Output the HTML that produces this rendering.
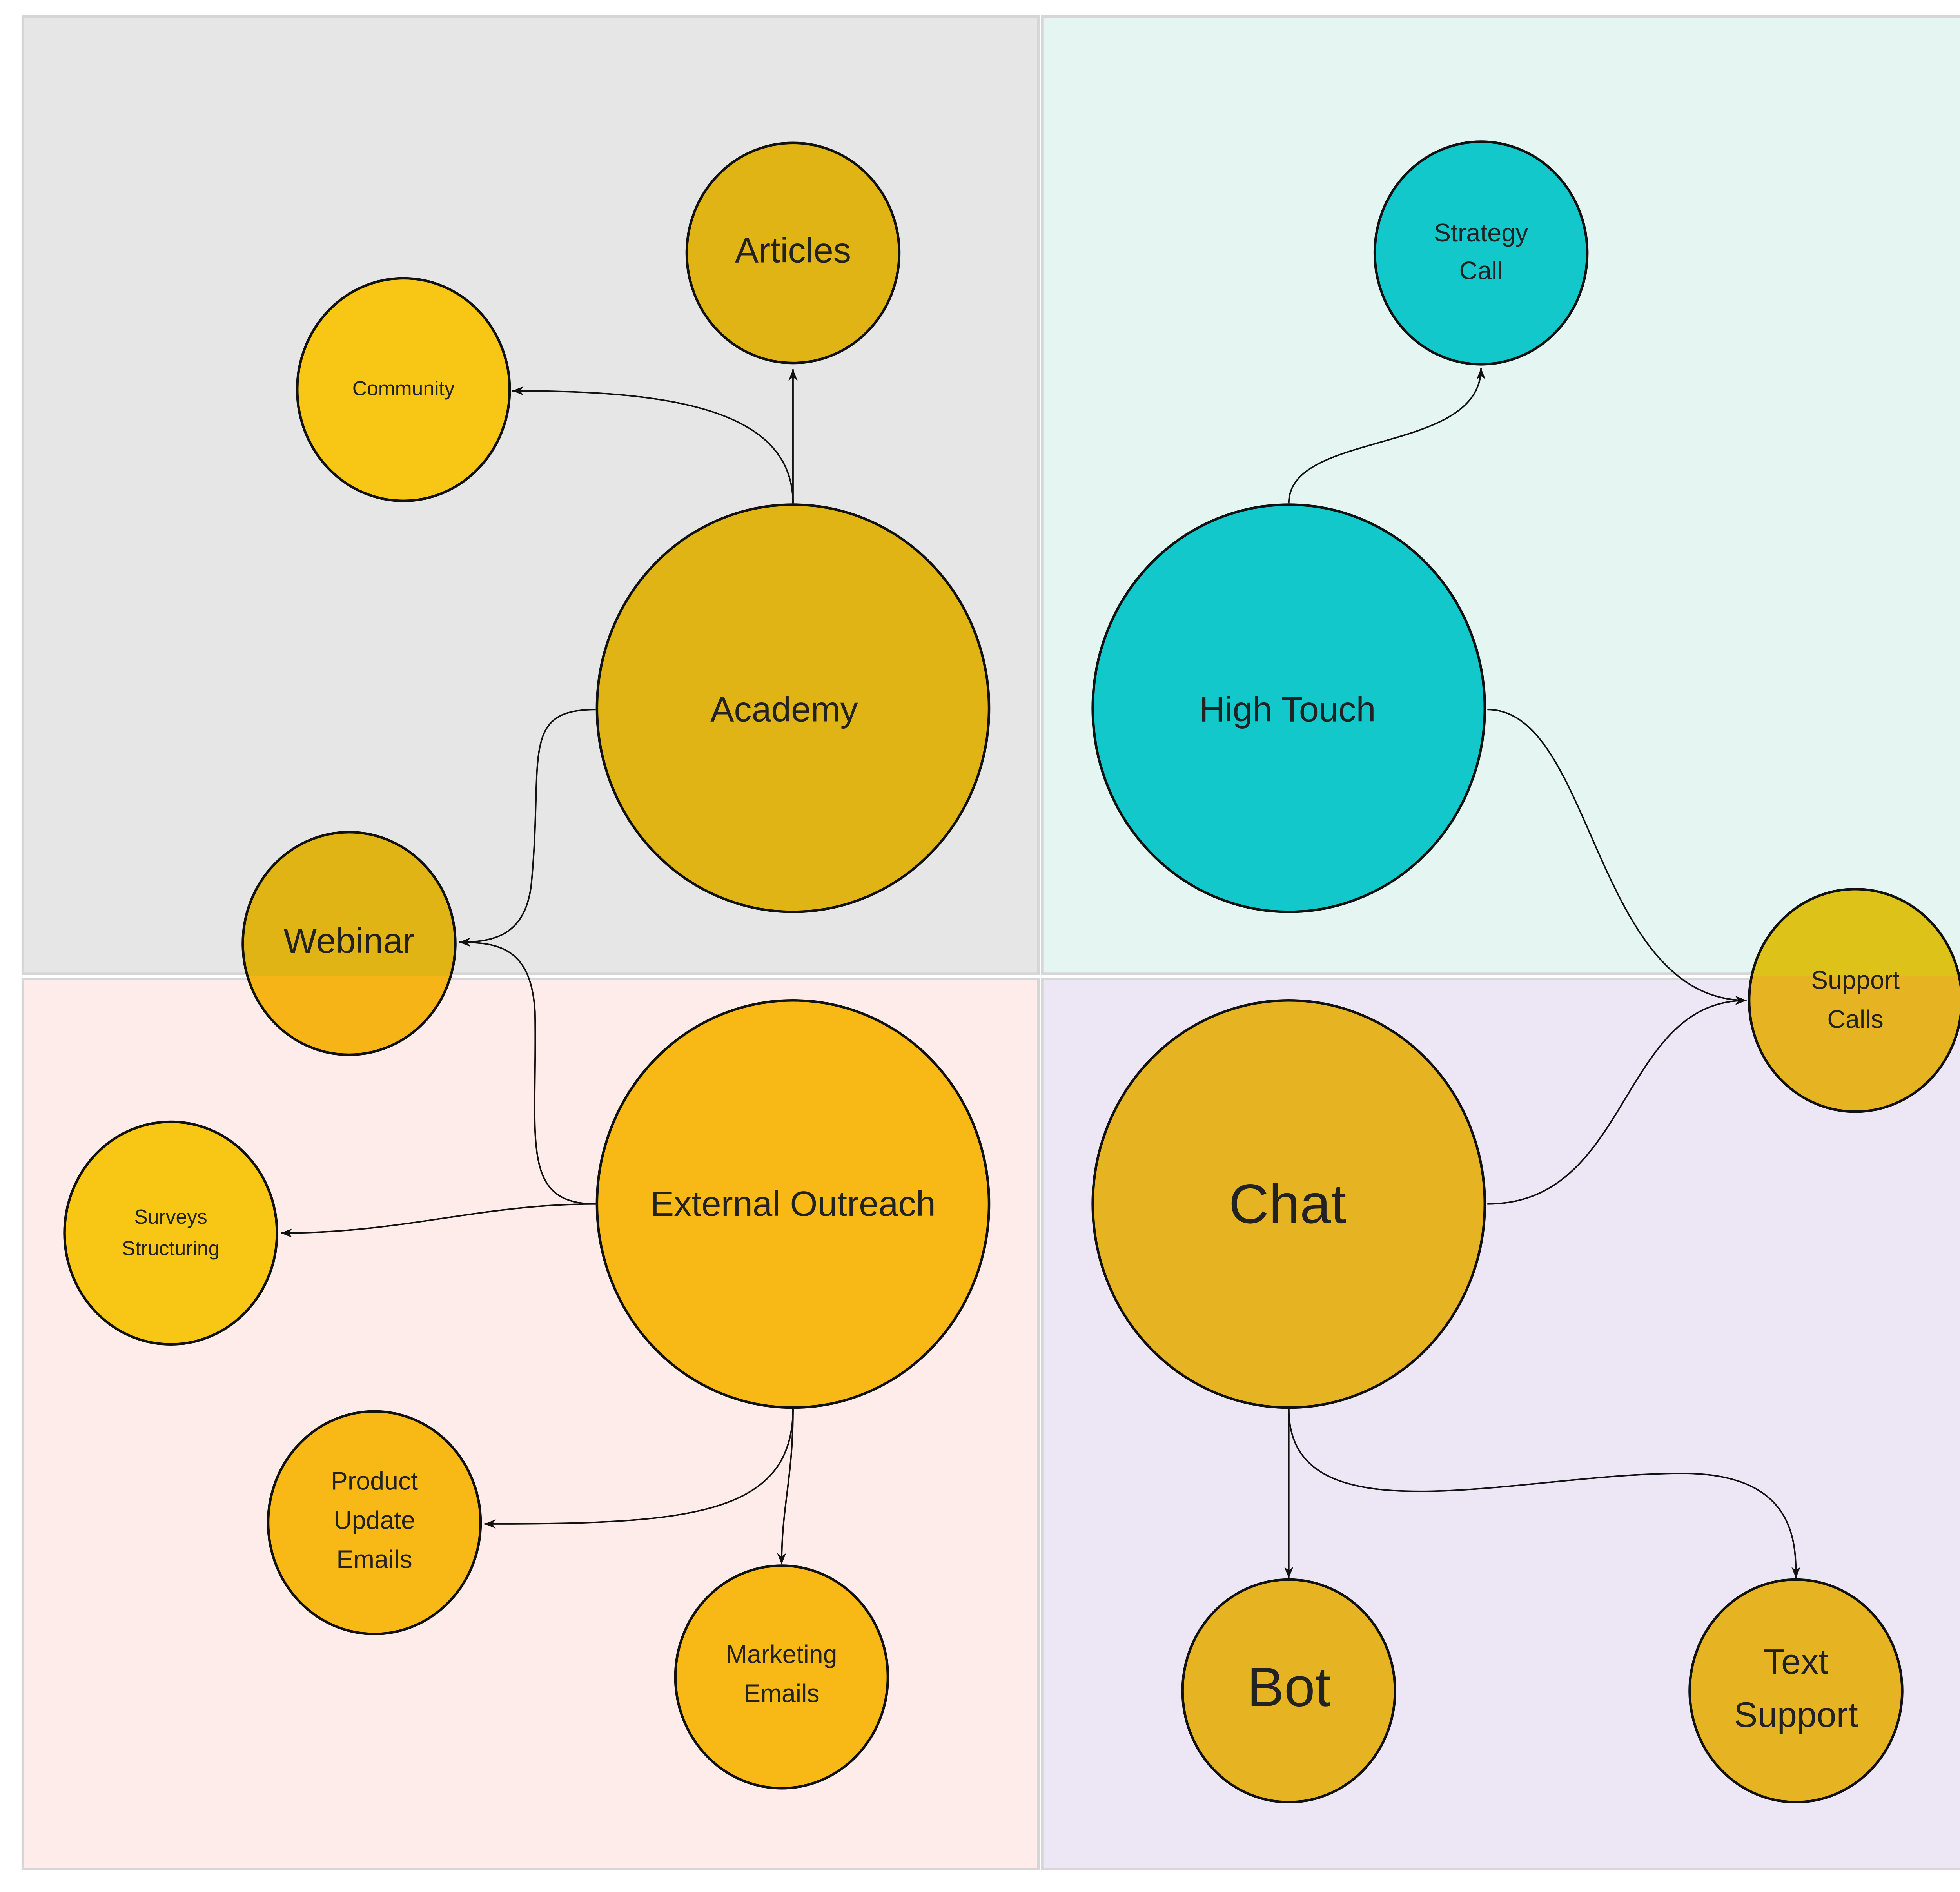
<!DOCTYPE html>
<html><head><meta charset="utf-8"><style>html,body{margin:0;padding:0;background:#fff}svg{display:block}text{font-family:"Liberation Sans",sans-serif;fill:#222;text-anchor:middle;dominant-baseline:central}</style></head><body>
<svg width="5059" height="4827" viewBox="0 0 1568 1496" xmlns="http://www.w3.org/2000/svg">
<defs>
<marker id="a" viewBox="0 0 10 10" refX="10" refY="5" markerWidth="9" markerHeight="9" markerUnits="userSpaceOnUse" orient="auto"><path d="M0,1 L10,5 L0,9 L3,5 z" fill="#111"/></marker>
<clipPath id="bot"><rect x="0" y="772" width="1568" height="800"/></clipPath>
</defs>
<rect width="1568" height="1496" fill="#fff"/>
<rect x="18" y="13" width="803" height="757" fill="#e6e6e6" stroke="#d6d6d6" stroke-width="2"/>
<rect x="824" y="13" width="727" height="757" fill="#e4f5f2" stroke="#d6d6d6" stroke-width="2"/>
<rect x="18" y="774" width="803" height="704" fill="#fdecea" stroke="#d6d6d6" stroke-width="2"/>
<rect x="824" y="774" width="727" height="704" fill="#ede7f5" stroke="#d6d6d6" stroke-width="2"/>
<g fill="none" stroke="#111" stroke-width="1.2">
<path d="M627,398 L627,292" marker-end="url(#a)"/>
<path d="M627,398 C627,320 520,309 405,309" marker-end="url(#a)"/>
<path d="M471,561 C410,561 430,600 420,700 C415,740 390,745 363,745" marker-end="url(#a)"/>
<path d="M471,952 C410,952 425,900 423,800 C420,750 395,745 363,745" marker-end="url(#a)"/>
<path d="M471,952 C380,952 320,975 222,975" marker-end="url(#a)"/>
<path d="M627,1114 C627,1200 540,1205 383,1205" marker-end="url(#a)"/>
<path d="M627,1114 C627,1170 618,1190 618,1237" marker-end="url(#a)"/>
<path d="M1019,398 C1019,340 1171,360 1171,291" marker-end="url(#a)"/>
<path d="M1176,561 C1260,561 1260,791 1381,791" marker-end="url(#a)"/>
<path d="M1176,952 C1290,952 1280,791 1381,791" marker-end="url(#a)"/>
<path d="M1019,1114 L1019,1248" marker-end="url(#a)"/>
<path d="M1019,1114 C1019,1220 1200,1165 1330,1165 C1420,1165 1420,1220 1420,1248" marker-end="url(#a)"/>
</g>
<g stroke="#111" stroke-width="2">
<ellipse cx="627" cy="560" rx="155" ry="161" fill="#e0b414"/>
<ellipse cx="627" cy="200" rx="84" ry="87" fill="#e0b414"/>
<ellipse cx="319" cy="308" rx="84" ry="88" fill="#f8c614"/>
<ellipse cx="1171" cy="200" rx="84" ry="88" fill="#12c8cb"/>
<ellipse cx="1019" cy="560" rx="155" ry="161" fill="#12c8cb"/>
<ellipse cx="1019" cy="952" rx="155" ry="161" fill="#e6b422"/>
<ellipse cx="627" cy="952" rx="155" ry="161" fill="#f8b816"/>
<ellipse cx="135" cy="975" rx="84" ry="88" fill="#f8c614"/>
<ellipse cx="296" cy="1204" rx="84" ry="88" fill="#f8b816"/>
<ellipse cx="618" cy="1326" rx="84" ry="88" fill="#f8b816"/>
<ellipse cx="1019" cy="1337" rx="84" ry="88" fill="#e6b422"/>
<ellipse cx="1420" cy="1337" rx="84" ry="88" fill="#e6b422"/>
</g>
<ellipse cx="276" cy="746" rx="84" ry="88" fill="#e0b414"/>
<ellipse cx="276" cy="746" rx="84" ry="88" fill="#f6b416" clip-path="url(#bot)"/>
<ellipse cx="276" cy="746" rx="84" ry="88" fill="none" stroke="#111" stroke-width="2"/>
<ellipse cx="1467" cy="791" rx="84" ry="88" fill="#ddc21a"/>
<ellipse cx="1467" cy="791" rx="84" ry="88" fill="#e6b422" clip-path="url(#bot)"/>
<ellipse cx="1467" cy="791" rx="84" ry="88" fill="none" stroke="#111" stroke-width="2"/>
<text x="620" y="561" font-size="28">Academy</text>
<text x="627" y="198" font-size="28">Articles</text>
<text x="319" y="307" font-size="16">Community</text>
<text x="276" y="744" font-size="28">Webinar</text>
<text x="1171" y="184" font-size="20">Strategy</text>
<text x="1171" y="214" font-size="20">Call</text>
<text x="1018" y="561" font-size="28">High Touch</text>
<text x="1467" y="775" font-size="20">Support</text>
<text x="1467" y="806" font-size="20">Calls</text>
<text x="1018" y="952" font-size="44">Chat</text>
<text x="627" y="952" font-size="28">External Outreach</text>
<text x="135" y="962" font-size="16">Surveys</text>
<text x="135" y="987" font-size="16">Structuring</text>
<text x="296" y="1171" font-size="20">Product</text>
<text x="296" y="1202" font-size="20">Update</text>
<text x="296" y="1233" font-size="20">Emails</text>
<text x="618" y="1308" font-size="20">Marketing</text>
<text x="618" y="1339" font-size="20">Emails</text>
<text x="1019" y="1334" font-size="44">Bot</text>
<text x="1420" y="1314" font-size="28">Text</text>
<text x="1420" y="1356" font-size="28">Support</text>
</svg>
</body></html>
